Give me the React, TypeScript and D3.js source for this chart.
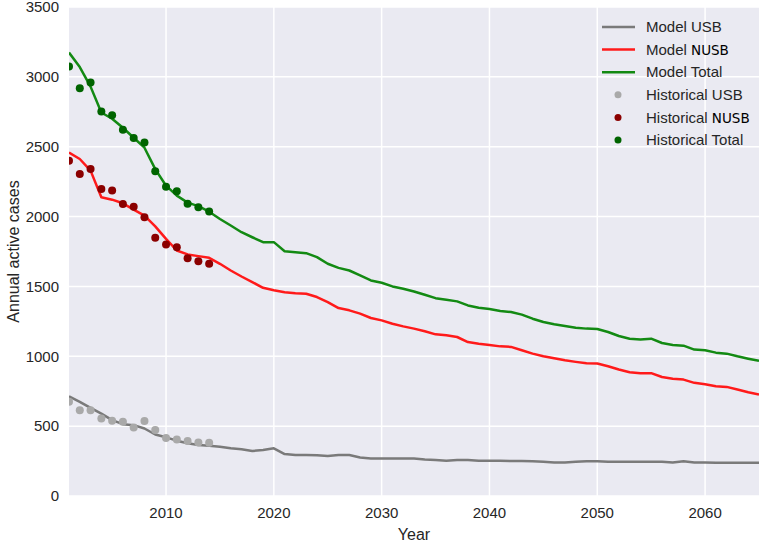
import React from "react";
import * as d3 from "d3";

const modelYears = d3.range(2001, 2066);
const modelUSB = [714, 674, 631, 590, 543, 514, 507, 483, 440, 420, 396, 377, 365, 360, 353, 341, 334, 322, 329, 341, 300, 293, 293, 291, 286, 293, 293, 276, 269, 269, 269, 269, 269, 262, 257, 252, 257, 257, 252, 252, 252, 250, 250, 248, 245, 240, 240, 245, 248, 248, 246, 245, 245, 245, 246, 245, 240, 248, 240, 240, 238, 238, 238, 238, 238];
const modelNUSB = [2459, 2412, 2329, 2138, 2121, 2095, 2050, 2007, 1930, 1840, 1757, 1729, 1717, 1705, 1662, 1614, 1571, 1531, 1490, 1473, 1459, 1452, 1448, 1424, 1388, 1345, 1329, 1305, 1274, 1257, 1233, 1214, 1198, 1179, 1157, 1150, 1138, 1102, 1090, 1081, 1071, 1067, 1043, 1019, 1000, 986, 971, 960, 950, 948, 929, 905, 886, 879, 879, 852, 840, 833, 810, 800, 786, 781, 762, 743, 726];
const modelTotal = [3174, 3070, 2930, 2745, 2700, 2636, 2564, 2493, 2340, 2221, 2150, 2100, 2075, 2035, 1983, 1936, 1888, 1852, 1817, 1817, 1752, 1745, 1738, 1710, 1662, 1633, 1614, 1579, 1543, 1526, 1500, 1483, 1464, 1440, 1416, 1405, 1393, 1364, 1348, 1338, 1324, 1317, 1298, 1269, 1245, 1229, 1217, 1205, 1198, 1195, 1174, 1145, 1126, 1121, 1126, 1095, 1081, 1076, 1048, 1043, 1026, 1019, 1000, 983, 967];

const histYears = [2001, 2002, 2003, 2004, 2005, 2006, 2007, 2008, 2009, 2010, 2011, 2012, 2013, 2014];
const histUSB = [674, 614, 614, 555, 538, 531, 490, 536, 472, 415, 405, 393, 383, 381];
const histNUSB = [2400, 2305, 2340, 2198, 2186, 2090, 2071, 1995, 1848, 1800, 1781, 1702, 1681, 1662];
const histTotal = [3074, 2919, 2960, 2752, 2726, 2621, 2562, 2531, 2324, 2214, 2181, 2092, 2067, 2037];

const xTicks = [2010, 2020, 2030, 2040, 2050, 2060];
const yTicks = [0, 500, 1000, 1500, 2000, 2500, 3000, 3500];

const left = 69, right = 759, top = 7, bottom = 496;
const FONT = "'Liberation Sans', Arial, sans-serif";
const TXT = "#262626";

export default function App() {
  const x = d3.scaleLinear().domain([2001, 2065]).range([left, right]);
  const y = d3.scaleLinear().domain([0, 3500]).range([bottom, top]);
  const line = d3.line<number>().x((_, i) => x(modelYears[i])).y((d) => y(d));

  const lines = [
    { data: modelUSB, color: "#7a7a7a" },
    { data: modelNUSB, color: "#ff1a1a" },
    { data: modelTotal, color: "#138a13" },
  ];
  const pts = [
    { data: histUSB, color: "#a9a9a9" },
    { data: histNUSB, color: "#8b0000" },
    { data: histTotal, color: "#006400" },
  ];

  const legend = [
    { kind: "line", color: "#7a7a7a", a: "Model ", b: "USB", alt: false },
    { kind: "line", color: "#ff1a1a", a: "Model ", b: "NUSB", alt: true },
    { kind: "line", color: "#138a13", a: "Model ", b: "Total", alt: false },
    { kind: "dot", color: "#a9a9a9", a: "Historical ", b: "USB", alt: false },
    { kind: "dot", color: "#8b0000", a: "Historical ", b: "NUSB", alt: true },
    { kind: "dot", color: "#006400", a: "Historical ", b: "Total", alt: false },
  ];

  return (
    <svg width={760} height={543} style={{ position: "absolute", left: 0, top: 0 }} fontFamily={FONT}>
      <defs>
        <clipPath id="plotclip">
          <rect x={left} y={top} width={right - left} height={bottom - top} />
        </clipPath>
      </defs>
      <rect x={0} y={0} width={760} height={543} fill="#fff" />
      <rect x={left} y={top} width={right - left} height={bottom - top} fill="#eaeaf2" />
      {xTicks.map((t) => (
        <line key={"gx" + t} x1={x(t)} x2={x(t)} y1={top} y2={bottom} stroke="#fff" strokeWidth={1.5} />
      ))}
      {yTicks.map((t) => (
        <line key={"gy" + t} x1={left} x2={right} y1={y(t)} y2={y(t)} stroke="#fff" strokeWidth={1.5} />
      ))}
      <g clipPath="url(#plotclip)">
        {lines.map((l, i) => (
          <path key={"l" + i} d={line(l.data) || ""} fill="none" stroke={l.color} strokeWidth={2.5} strokeLinejoin="round" />
        ))}
        {pts.map((p, i) =>
          p.data.map((v, j) => (
            <circle key={"p" + i + "-" + j} cx={x(histYears[j])} cy={y(v)} r={4} fill={p.color} />
          ))
        )}
      </g>
      {yTicks.map((t) => (
        <text key={"ty" + t} x={59} y={y(t)} dy="0.35em" textAnchor="end" fontSize={15} fill={TXT}>
          {t}
        </text>
      ))}
      {xTicks.map((t) => (
        <text key={"tx" + t} x={x(t)} y={513} dy="0.35em" textAnchor="middle" fontSize={15} fill={TXT}>
          {t}
        </text>
      ))}
      <text x={414} y={534} dy="0.35em" textAnchor="middle" fontSize={16} fill={TXT}>Year</text>
      <text transform={`translate(13,${(top + bottom) / 2}) rotate(-90)`} dy="0.35em" textAnchor="middle" fontSize={16} fill={TXT}>
        Annual active cases
      </text>
      {legend.map((e, i) => {
        const cy = 27 + i * 22.6;
        return (
          <g key={"lg" + i}>
            {e.kind === "line" ? (
              <line x1={602} x2={635} y1={cy} y2={cy} stroke={e.color} strokeWidth={2.5} />
            ) : (
              <circle cx={618} cy={cy} r={3.5} fill={e.color} />
            )}
            <text x={646} y={cy} dy="0.35em" fontSize={15} fill={TXT}>
              {e.a}
              {e.alt ? (
                <tspan fill="#000" fontFamily="'DejaVu Sans', sans-serif" fontSize={13.5}>{e.b}</tspan>
              ) : (
                e.b
              )}
            </text>
          </g>
        );
      })}
    </svg>
  );
}
